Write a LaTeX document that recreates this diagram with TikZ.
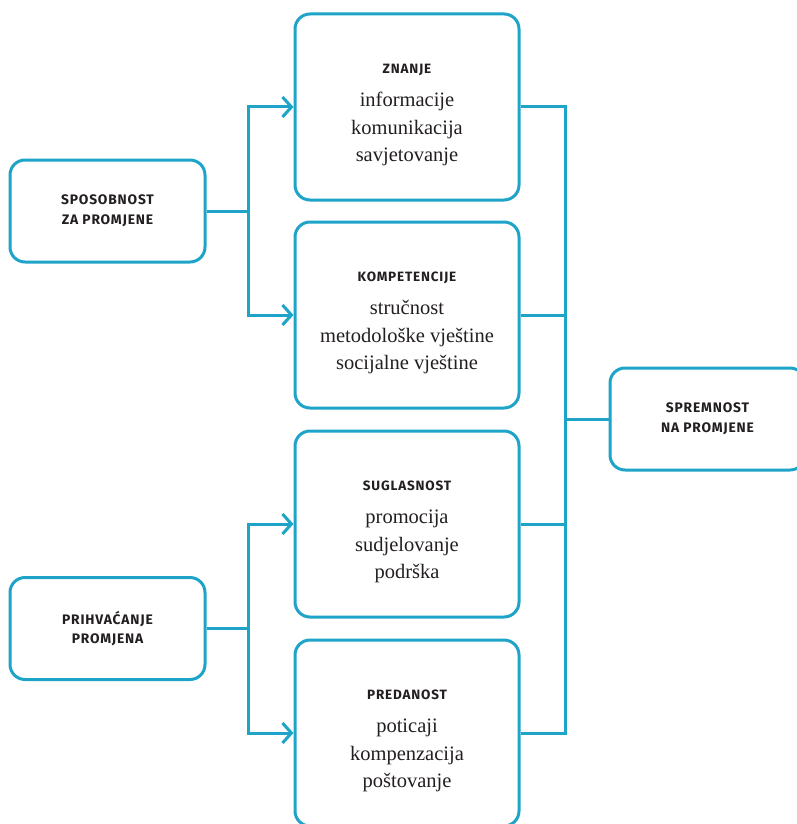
\documentclass[tikz,border=0pt]{standalone}
\usepackage{fontspec}
\setmainfont{Liberation Serif}
\newfontfamily\capsfont[LetterSpace=6]{Fira Sans}
\usetikzlibrary{arrows.meta, positioning}

\definecolor{lineblue}{RGB}{29,164,200}
\definecolor{textgrey}{RGB}{35,31,32}

\newcommand{\boxhead}[1]{\rule{0pt}{26pt}{\capsfont\bfseries\fontsize{13.5}{19}\selectfont #1}}

\begin{document}
\begin{tikzpicture}[
    x=1pt, y=-1pt,
    box/.style={draw=lineblue, line width=3pt, rounded corners=15pt, fill=white,
        align=center, text=textgrey},
    sidebox/.style={box, minimum width=195pt, minimum height=102pt,
        font=\capsfont\bfseries\fontsize{13.8}{19.5}\selectfont},
    itembox/.style={box, minimum width=224pt, minimum height=186pt,
        font=\fontsize{20.5}{27.5}\selectfont},
    link/.style={draw=lineblue, line width=3pt},
    >={Straight Barb[length=9pt, width=20pt]}
]
\useasboundingbox (0,0) rectangle (797,824);
\clip (0,0) rectangle (797,824);

% left column
\node (Sposobnost) [sidebox] at (107.5,211) {SPOSOBNOST\\ZA PROMJENE};
\node (Prihvacanje) [sidebox] at (107.5,628.5) {PRIHVAĆANJE\\PROMJENA};

% middle column
\node (Znanje) [itembox] at (407,107)
  {\boxhead{ZNANJE}\\[5.5pt] informacije\\ komunikacija\\ savjetovanje};
\node (Kompetencije) [itembox] at (407,315)
  {\boxhead{KOMPETENCIJE}\\[5.5pt] stručnost\\ metodološke vještine\\ socijalne vještine};
\node (Suglasnost) [itembox] at (407,524)
  {\boxhead{SUGLASNOST}\\[5.5pt] promocija\\ sudjelovanje\\ podrška};
\node (Predanost) [itembox] at (407,733)
  {\boxhead{PREDANOST}\\[5.5pt] poticaji\\ kompenzacija\\ poštovanje};

% right column
\node (Spremnost) [sidebox] at (707.5,419) {SPREMNOST\\NA PROMJENE};

% connectors
\coordinate (SplitTop) at (248,211);
\coordinate (SplitBottom) at (248,628.5);
\coordinate (Join) at (565,419);

\draw[link] (Sposobnost) -- (SplitTop);
\draw[link,->] (SplitTop) |- (Znanje);
\draw[link,->] (SplitTop) |- (Kompetencije);

\draw[link] (Prihvacanje) -- (SplitBottom);
\draw[link,->] (SplitBottom) |- (Suglasnost);
\draw[link,->] (SplitBottom) |- (Predanost);

\draw[link] (Znanje) -| (Join);
\draw[link] (Kompetencije) -| (Join);
\draw[link] (Suglasnost) -| (Join);
\draw[link] (Predanost) -| (Join);
\draw[link] (Join) -- (Spremnost);

\end{tikzpicture}
\end{document}
